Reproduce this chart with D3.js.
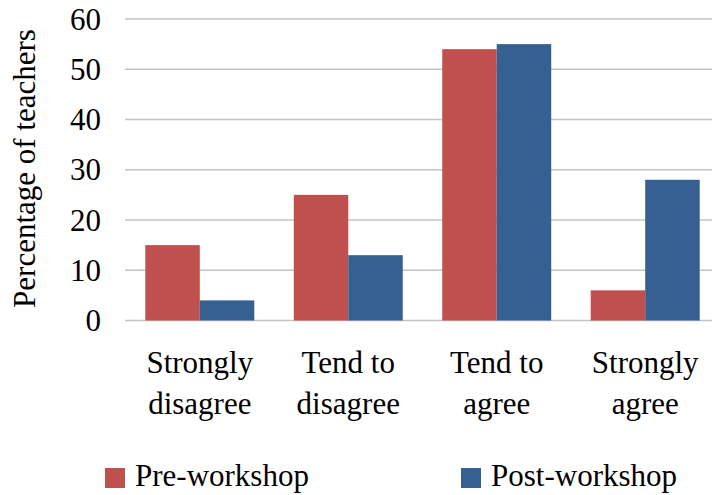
<!DOCTYPE html>
<html><head><meta charset="utf-8">
<script src="https://cdn.jsdelivr.net/npm/d3@7"></script>
<style>body{margin:0;background:#fff}svg{display:block}</style>
</head><body><svg id="c" width="712" height="495"></svg>
<script>
const categories = [["Strongly","disagree"],["Tend to","disagree"],["Tend to","agree"],["Strongly","agree"]];
const seriesNames = ["Pre-workshop","Post-workshop"];
const preValues = [15, 25, 54, 6];
const postValues = [4, 13, 55, 28];
const yTicks = [0,10,20,30,40,50,60];
const colors = ["#C0504D","#376092"];

const FONT = "Liberation Serif";
const svg = d3.select("#c");
const catKeys = categories.map(c=>c.join(" "));
const x = d3.scaleBand().domain(catKeys).range([126,719]).paddingInner(0.266).paddingOuter(0.13);
const xs = d3.scaleBand().domain(seriesNames).range([0,x.bandwidth()]);
const y = d3.scaleLinear().domain([0,60]).range([320.5,19]);

function label(parent, tx, ty, str, anchor, rot){
  return parent.append("text")
    .attr("transform", `translate(${tx},${ty})` + (rot ? ` rotate(${rot})` : ""))
    .style("font-family", FONT)
    .attr("font-size", 31).attr("fill", "#000")
    .attr("text-anchor", anchor).text(str);
}

svg.append("g").selectAll("line").data(yTicks).join("line")
  .attr("x1",125).attr("x2",712).attr("y1",d=>y(d)).attr("y2",d=>y(d))
  .attr("stroke","#C4C4C4").attr("stroke-width",1.3);

const yg = svg.append("g");
yTicks.forEach(t => label(yg, 101, y(t) + 10.5, String(t), "end", 0));

label(svg, 35, 168.5, "Percentage of teachers", "middle", -90);

const series = [preValues, postValues];
series.forEach((vals,si)=>{
  svg.append("g").selectAll("rect").data(vals).join("rect")
    .attr("x",(d,i)=>x(catKeys[i])+xs(seriesNames[si]))
    .attr("width",xs.bandwidth())
    .attr("y",d=>y(d)).attr("height",d=>y(0)-y(d))
    .attr("fill",colors[si]);
});

const cg = svg.append("g");
categories.forEach((c,i)=>{
  const cx = x(catKeys[i]) + x.bandwidth()/2;
  c.forEach((line,li)=> label(cg, cx, 373 + li*41, line, "middle", 0));
});

const legX = [105, 461];
seriesNames.forEach((n,i)=>{
  svg.append("rect").attr("x",legX[i]).attr("y",468).attr("width",20).attr("height",20).attr("fill",colors[i]);
  label(svg, legX[i]+30, 486, n, "start", 0);
});
</script></body></html>
